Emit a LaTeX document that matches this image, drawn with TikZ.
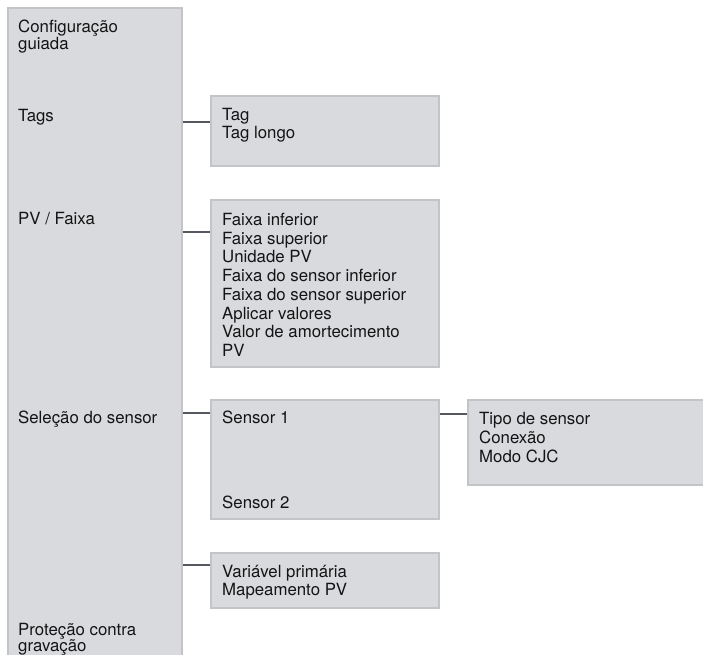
\documentclass[tikz,border=0pt]{standalone}
\usepackage{fontspec}
\setmainfont{TeX Gyre Heros}
\definecolor{boxfill}{HTML}{D9DADE}
\definecolor{boxline}{HTML}{C3C4C8}
\definecolor{connline}{HTML}{55595F}
\begin{document}
\begin{tikzpicture}[x=1pt,y=-1pt,
  panel/.style={draw=boxline, fill=boxfill, line width=1.5pt, inner sep=0pt, anchor=north west},
  lbl/.style={anchor=base west, inner sep=0pt, font=\fontsize{16.8}{18}\selectfont, text=black!92},
  conn/.style={draw=connline, line width=2.2pt}]
\useasboundingbox (0,0) rectangle (703,654);
\clip (0,0) rectangle (703,654);
\fill[white] (0,0) rectangle (703,654);
% boxes
\node[panel, minimum width=174pt, minimum height=660pt] (leftbox) at (7,7) {};
\node[panel, minimum width=228pt, minimum height=70pt] (tagsbox) at (210,95) {};
\node[panel, minimum width=228pt, minimum height=167pt] (pvbox) at (210,199) {};
\node[panel, minimum width=228pt, minimum height=119pt] (sensbox) at (210,399) {};
\node[panel, minimum width=228pt, minimum height=55pt] (varbox) at (210,552) {};
\node[panel, minimum width=250pt, minimum height=85pt] (typebox) at (467,399) {};
% connector anchors
\coordinate (ctags) at ([yshift=-27pt]tagsbox.north west);
\coordinate (cpv) at ([yshift=-33pt]pvbox.north west);
\coordinate (csens) at ([yshift=-14pt]sensbox.north west);
\coordinate (cvar) at ([yshift=-13pt]varbox.north west);
\coordinate (ctype) at ([yshift=-15pt]typebox.north west);
\draw[conn] (leftbox.east |- ctags) -- (ctags);
\draw[conn] (leftbox.east |- cpv) -- (cpv);
\draw[conn] (leftbox.east |- csens) -- (csens);
\draw[conn] (leftbox.east |- cvar) -- (cvar);
\draw[conn] (sensbox.east |- ctype) -- (ctype);
% left column labels
\node[lbl] (l1a) at (18,32) {Configuração};
\node[lbl] (l1b) at (18,49) {guiada};
\node[lbl] (l2) at (18,121) {Tags};
\node[lbl] (l3) at (18,224) {PV / Faixa};
\node[lbl] (l4) at (18,423) {Seleção do sensor};
\node[lbl] (l5a) at (18,635) {Proteção contra};
\node[lbl] (l5b) at (18,651) {gravação};
% tags box
\node[lbl] (t1) at (222,120) {Tag};
\node[lbl] (t2) at (222,138) {Tag longo};
% pv box
\node[lbl] (p1) at (222,225.5) {Faixa inferior};
\node[lbl] (p2) at (222,244.2) {Faixa superior};
\node[lbl] (p3) at (222,262.9) {Unidade PV};
\node[lbl] (p4) at (222,281.6) {Faixa do sensor inferior};
\node[lbl] (p5) at (222,300.3) {Faixa do sensor superior};
\node[lbl] (p6) at (222,319.0) {Aplicar valores};
\node[lbl] (p7) at (222,337.7) {Valor de amortecimento};
\node[lbl] (p8) at (222,356.4) {PV};
% sensor box
\node[lbl] (s1) at (222,423) {Sensor 1};
\node[lbl] (s2) at (222,508) {Sensor 2};
% var box
\node[lbl] (v1) at (222,577) {Variável primária};
\node[lbl] (v2) at (222,595) {Mapeamento PV};
% type box
\node[lbl] (y1) at (479,424) {Tipo de sensor};
\node[lbl] (y2) at (479,443) {Conexão};
\node[lbl] (y3) at (479,462) {Modo CJC};
\end{tikzpicture}
\end{document}
